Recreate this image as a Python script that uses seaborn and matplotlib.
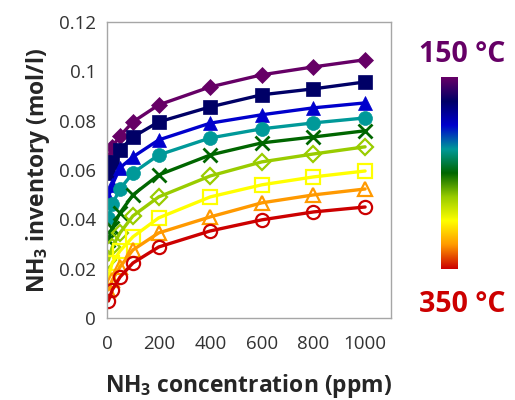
import numpy as np
import pandas as pd
import matplotlib
matplotlib.use("Agg")
import matplotlib.pyplot as plt
import seaborn as sns
from matplotlib.colors import LinearSegmentedColormap

# ---- data ----
conc_ppm = [5, 20, 50, 100, 200, 400, 600, 800, 1000]
temps_c = [150, 175, 200, 225, 250, 275, 300, 325, 350]
inv_150 = [0.0640, 0.0694, 0.0738, 0.0795, 0.0864, 0.0937, 0.0986, 0.1018, 0.1047]
inv_175 = [0.0588, 0.0633, 0.0682, 0.0734, 0.0795, 0.0856, 0.0905, 0.0929, 0.0957]
inv_200 = [0.0490, 0.0540, 0.0609, 0.0653, 0.0722, 0.0790, 0.0824, 0.0852, 0.0872]
inv_225 = [0.0406, 0.0462, 0.0523, 0.0588, 0.0661, 0.0730, 0.0767, 0.0791, 0.0811]
inv_250 = [0.0318, 0.0365, 0.0426, 0.0499, 0.0580, 0.0661, 0.0710, 0.0734, 0.0759]
inv_275 = [0.0235, 0.0288, 0.0345, 0.0414, 0.0491, 0.0576, 0.0633, 0.0665, 0.0694]
inv_300 = [0.0165, 0.0225, 0.0272, 0.0329, 0.0406, 0.0491, 0.0540, 0.0572, 0.0596]
inv_325 = [0.0114, 0.0154, 0.0207, 0.0276, 0.0345, 0.0410, 0.0467, 0.0499, 0.0523]
inv_350 = [0.0069, 0.0114, 0.0166, 0.0223, 0.0288, 0.0353, 0.0398, 0.0430, 0.0450]
series = [inv_150, inv_175, inv_200, inv_225, inv_250, inv_275, inv_300, inv_325, inv_350]
x_ticks = [0, 200, 400, 600, 800, 1000]
y_ticks = [0, 0.02, 0.04, 0.06, 0.08, 0.10, 0.12]
y_tick_labels = ["0", "0.02", "0.04", "0.06", "0.08", "0.1", "0.12"]

# ---- styles ----
colors = ["#660066", "#000066", "#0000CC", "#009999", "#006600",
          "#99CC00", "#FFFF00", "#FF9900", "#CC0000"]
markers = ["D", "s", "^", "o", "x", "D", "s", "^", "o"]
filled = [True, True, True, True, True, False, False, False, False]
msizes = [8, 10, 10, 10, 10, 8, 10, 10, 9.5]

sns.set_theme(style="white")
plt.rcParams["font.family"] = ["Open Sans", "DejaVu Sans"]
plt.rcParams["mathtext.fontset"] = "custom"
plt.rcParams["mathtext.rm"] = "Open Sans"
plt.rcParams["mathtext.bf"] = "Open Sans:bold"

fig = plt.figure(figsize=(5.15, 4.0), dpi=100)
ax = fig.add_axes([0.208, 0.205, 0.551, 0.740])

rows = []
for t, vals in zip(temps_c, series):
    for c, v in zip(conc_ppm, vals):
        rows.append({"conc": c, "inv": v, "temp": t})
df = pd.DataFrame(rows)

for i, t in enumerate(temps_c):
    sub = df[df["temp"] == t]
    kw = dict(marker=markers[i], markersize=msizes[i], color=colors[i],
              linewidth=2.4, markeredgecolor=colors[i])
    if markers[i] == "x":
        kw["markeredgewidth"] = 2.0
    elif filled[i]:
        kw["markeredgewidth"] = 0.5
    else:
        kw["markerfacecolor"] = "none"
        kw["markeredgewidth"] = 1.6
    sns.lineplot(data=sub, x="conc", y="inv", ax=ax, legend=False,
                 estimator=None, sort=True, **kw)

ax.set_xlim(0, 1100)
ax.set_ylim(0, 0.12)
ax.set_xticks(x_ticks)
ax.set_xticklabels([str(v) for v in x_ticks])
ax.set_yticks(y_ticks)
ax.set_yticklabels(y_tick_labels)
for s in ax.spines.values():
    s.set_color("#a6a6a6")
    s.set_linewidth(1.0)
    s.set_visible(True)
ax.tick_params(axis="both", direction="in", length=5, width=1,
               color="#a6a6a6", labelsize=13.5, labelcolor="#333333", pad=8)
ax.tick_params(axis="x", pad=12)
ax.set_xlabel(r"NH$_\mathbf{3}$ concentration (ppm)", fontsize=16.5,
              fontweight="bold", color="#262626", labelpad=14)
ax.set_ylabel(r"NH$_\mathbf{3}$ inventory (mol/l)", fontsize=16.5,
              fontweight="bold", color="#262626", labelpad=5)
ax.grid(False)

# ---- colour bar ----
cmap = LinearSegmentedColormap.from_list("temps", colors)
cax = fig.add_axes([441 / 515, 1 - 269 / 400, 17 / 515, 192 / 400])
grad = np.linspace(0, 1, 256).reshape(-1, 1)
cax.imshow(grad, aspect="auto", cmap=cmap, origin="upper")
cax.set_axis_off()
fig.text(462 / 515, 1 - 55 / 400, f"{temps_c[0]} °C", color=colors[0],
         fontsize=20.5, fontweight="bold", ha="center", va="center")
fig.text(462 / 515, 1 - 305 / 400, f"{temps_c[-1]} °C", color=colors[-1],
         fontsize=20.5, fontweight="bold", ha="center", va="center")

fig.savefig("out.png", dpi=100)
